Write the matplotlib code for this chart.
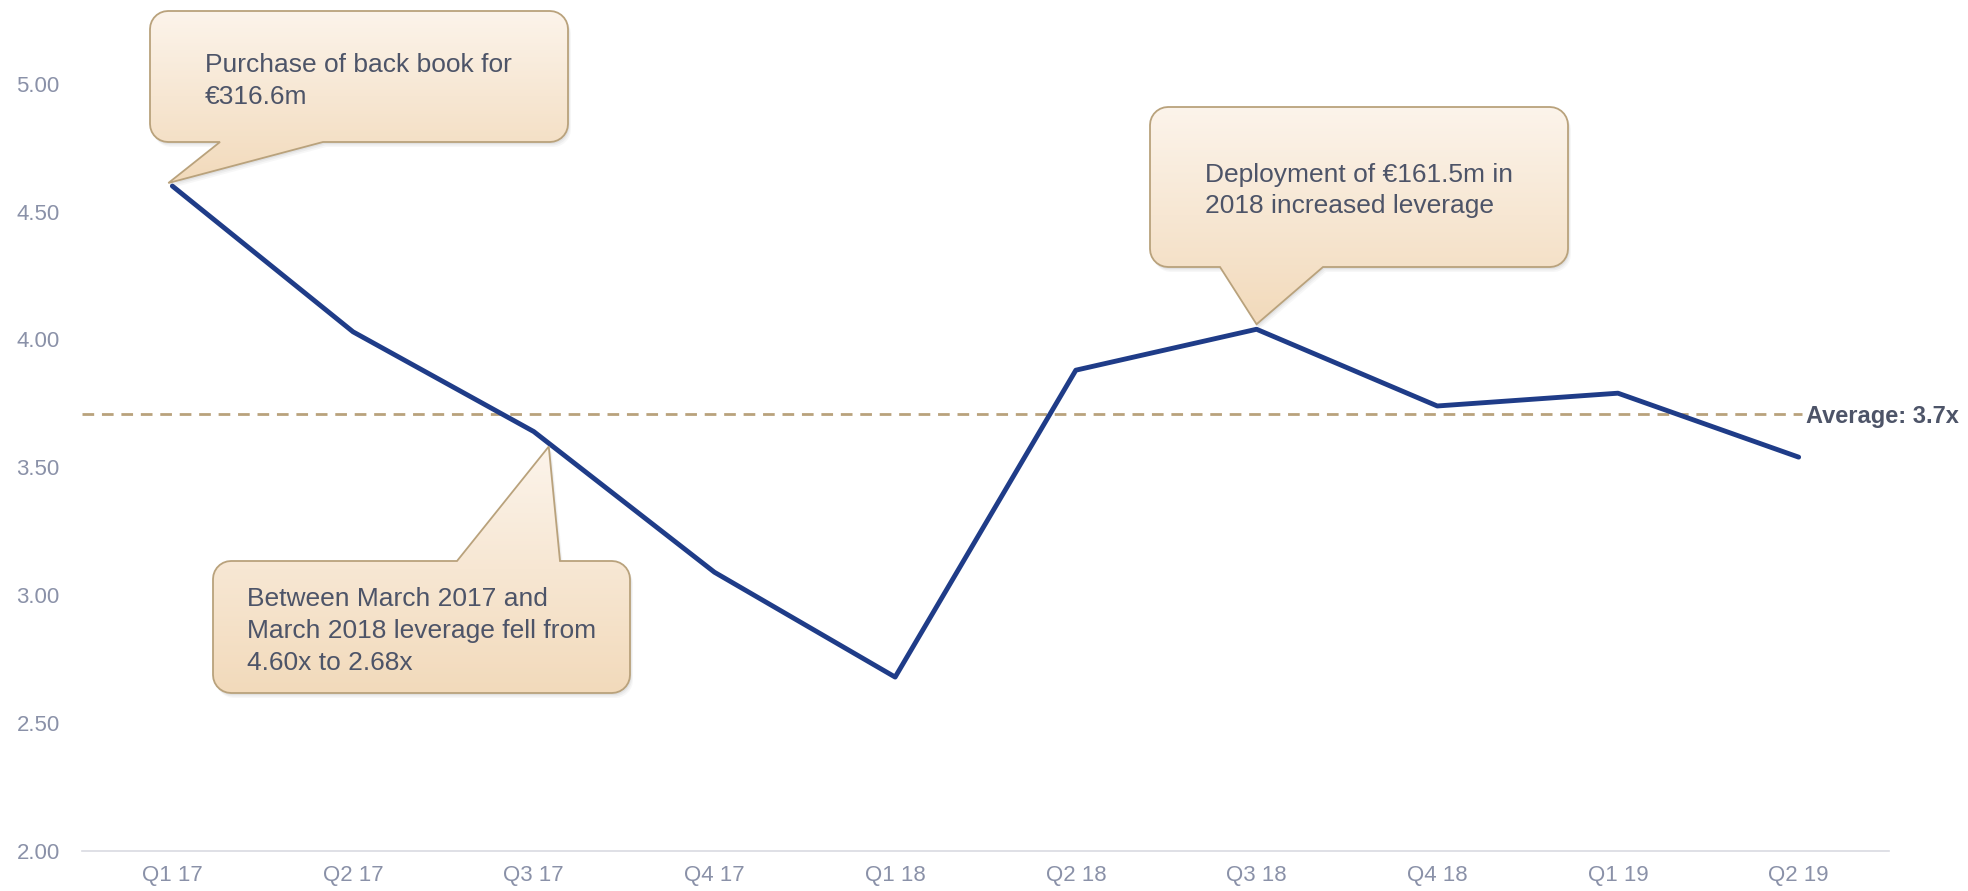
"""Leverage by quarter, with callouts and the period average."""

import matplotlib

matplotlib.use("Agg")
import matplotlib.pyplot as plt
import numpy as np
from matplotlib.colors import LinearSegmentedColormap
from matplotlib.patches import Polygon

quarters = ["Q1 17", "Q2 17", "Q3 17", "Q4 17", "Q1 18",
            "Q2 18", "Q3 18", "Q4 18", "Q1 19", "Q2 19"]
leverage = [4.60, 4.03, 3.64, 3.09, 2.68, 3.88, 4.04, 3.74, 3.79, 3.54]
average = 3.71
average_label = "Average: 3.7x"
y_ticks = [2.0, 2.5, 3.0, 3.5, 4.0, 4.5, 5.0]

NAVY = "#1f3c88"
TAN = "#b9a27c"
TICK = "#8a91a8"
TEXT = "#4d5468"

W, H = 1968, 891

plt.rcParams.update({"font.family": ["Liberation Sans", "DejaVu Sans"]})


def _rounded_outline(x0, y0, x1, y1, r, tail_side, base, tip, n=8):
    """Rounded-box outline (image px, y down) with a speech-bubble tail."""
    def arc(cx, cy, a0, a1):
        t = np.linspace(np.radians(a0), np.radians(a1), n)
        return list(zip(cx + r * np.cos(t), cy + r * np.sin(t)))

    pts = []
    # top edge (left -> right)
    pts += arc(x0 + r, y0 + r, 180, 270)
    if tail_side == "top":
        pts += [(base[0], y0), tip, (base[1], y0)]
    pts += arc(x1 - r, y0 + r, 270, 360)
    # right edge, bottom edge (right -> left)
    pts += arc(x1 - r, y1 - r, 0, 90)
    if tail_side == "bottom":
        pts += [(base[1], y1), tip, (base[0], y1)]
    pts += arc(x0 + r, y1 - r, 90, 180)
    return np.array(pts)


def callout(ov, box, tail_side, base, tip, lines, text_x, baselines):
    x0, y0, x1, y1 = box
    pts = _rounded_outline(x0, y0, x1, y1, 18, tail_side, base, tip)

    # soft drop shadow
    for off, a in [(5, 0.06), (3.5, 0.08), (2, 0.10)]:
        ov.add_patch(Polygon(pts + [off * 0.6, off], closed=True,
                             facecolor="#7a7a7a", edgecolor="none",
                             alpha=a, zorder=1))

    cmap = LinearSegmentedColormap.from_list("peach", ["#fcf4eb", "#f2dabb"])
    ymin, ymax = pts[:, 1].min(), pts[:, 1].max()
    xmin, xmax = pts[:, 0].min(), pts[:, 0].max()
    grad = np.linspace(0, 1, 256).reshape(-1, 1)
    img = ov.imshow(grad, cmap=cmap, aspect="auto",
                    extent=(xmin, xmax, ymax, ymin), zorder=2)
    face = Polygon(pts, closed=True, facecolor="none", edgecolor=TAN,
                   lw=1.3, zorder=3)
    ov.add_patch(face)
    img.set_clip_path(face)

    for line, yb in zip(lines, baselines):
        ov.text(text_x, yb, line, fontsize=19, color=TEXT,
                ha="left", va="baseline", zorder=4)


fig = plt.figure(figsize=(W / 100, H / 100), dpi=100)
ax = fig.add_axes([82 / W, 40 / H, (1889 - 82) / W, 844 / H])

x = np.arange(len(quarters))
ax.plot(x, leverage, color=NAVY, lw=3.5, solid_joinstyle="round",
        solid_capstyle="round", zorder=3)
ax.plot([-0.5, 9.02], [average, average], color=TAN, lw=2.0,
        dashes=(4.2, 2.8), zorder=2)
ax.text(9.04, average, average_label, fontsize=17, fontweight="bold",
        color=TEXT, ha="left", va="center_baseline")

ax.set_xlim(-0.5, len(quarters) - 0.5)
ax.set_ylim(2.0, 5.3)
ax.set_xticks(x)
ax.set_xticklabels(quarters)
ax.set_yticks(y_ticks)
ax.set_yticklabels([f"{v:.2f}" for v in y_ticks])
ax.tick_params(axis="both", length=0, labelsize=16, labelcolor=TICK)
ax.tick_params(axis="y", pad=16)
ax.tick_params(axis="x", pad=10)
for side in ["top", "right", "left"]:
    ax.spines[side].set_visible(False)
ax.spines["bottom"].set_color("#d9dae2")
ax.spines["bottom"].set_linewidth(1.2)

# overlay in image pixel coords for the speech-bubble callouts
ov = fig.add_axes([0, 0, 1, 1], zorder=5)
ov.set_xlim(0, W)
ov.set_ylim(H, 0)
ov.axis("off")
ov.patch.set_visible(False)


def tip_at(i, dx=0, dy=0):
    px, py = ax.transData.transform((x[i], leverage[i]))
    return (px + dx, H - py + dy)


callout(ov, (150, 11, 568, 142), "bottom", (220, 323), tip_at(0, -4, -3),
        ["Purchase of back book for", "\u20ac316.6m"], 205, [72, 104])
callout(ov, (1150, 107, 1568, 267), "bottom", (1220, 1323), tip_at(6, 0, -5),
        ["Deployment of \u20ac161.5m in", "2018 increased leverage"],
        1205, [182, 213])
callout(ov, (213, 561, 630, 693), "top", (457, 560), tip_at(2, 15, 15),
        ["Between March 2017 and", "March 2018 leverage fell from",
         "4.60x to 2.68x"], 247, [606, 638, 670])

fig.savefig("out.png", dpi=100)
